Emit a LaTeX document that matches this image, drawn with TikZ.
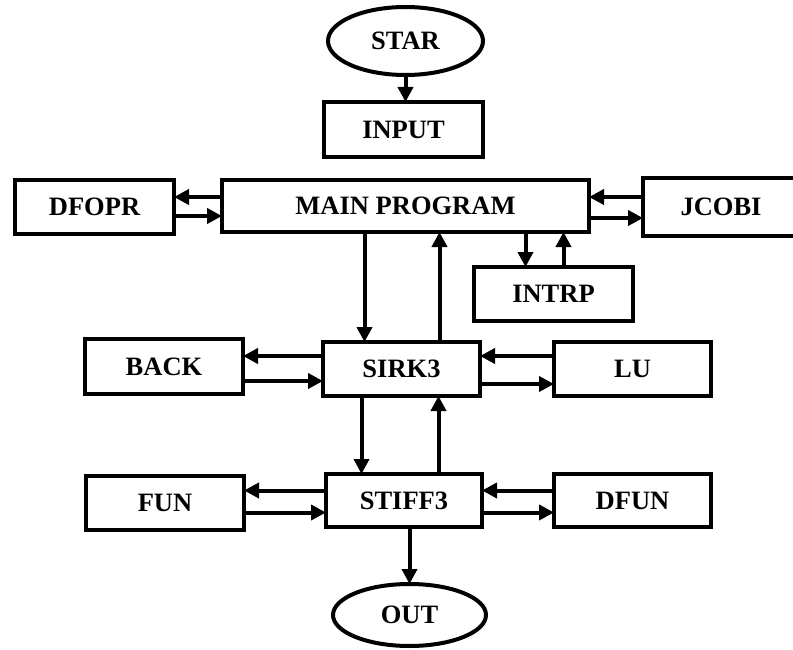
\documentclass[tikz,border=0pt]{standalone}
\usepackage{fontspec}
\setmainfont{Liberation Serif}
\usetikzlibrary{shapes.geometric,arrows.meta}
\tikzstyle{procBox}=[shape = rectangle, draw, line width = 4pt, inner sep = 0pt, outer sep = 0pt, font = \fontsize{26.5}{30}\selectfont\bfseries]
\tikzstyle{termOval}=[shape = ellipse, draw, line width = 4pt, inner sep = 0pt, outer sep = 0pt, font = \fontsize{26.5}{30}\selectfont\bfseries]
\tikzstyle{flowArrow}=[line width = 4pt, -{Triangle[length=15pt,width=15pt]}]

\begin{document}
\begin{tikzpicture}[x = 1pt, y = -1pt]
\useasboundingbox (0,0) rectangle (793,650);
\node[termOval, minimum width = 155pt, minimum height = 68pt] (star) at (405.5,41) {STAR};
\node[procBox, minimum width = 159pt, minimum height = 55pt] (input) at (403.5,129.5) {INPUT};
\node[procBox, minimum width = 159pt, minimum height = 54pt] (dfopr) at (94.5,207) {DFOPR};
\node[procBox, minimum width = 367pt, minimum height = 52pt] (main) at (405.5,206) {MAIN PROGRAM};
\node[procBox, minimum width = 156pt, minimum height = 58pt] (jcobi) at (721,207) {JCOBI};
\node[procBox, minimum width = 159pt, minimum height = 54pt] (intrp) at (553.5,294) {INTRP};
\node[procBox, minimum width = 158pt, minimum height = 55pt] (back) at (164,366.5) {BACK};
\node[procBox, minimum width = 157pt, minimum height = 54pt] (sirk) at (401.5,369) {SIRK3};
\node[procBox, minimum width = 157pt, minimum height = 54pt] (lu) at (632.5,369) {LU};
\node[procBox, minimum width = 158pt, minimum height = 54pt] (fun) at (165,503) {FUN};
\node[procBox, minimum width = 156pt, minimum height = 53pt] (stiff) at (404,500.5) {STIFF3};
\node[procBox, minimum width = 157pt, minimum height = 53pt] (dfun) at (632.5,500.5) {DFUN};
\node[termOval, minimum width = 153pt, minimum height = 62pt] (out) at (409.5,615) {OUT};
% vertical flow
\draw[flowArrow] (star.south) -- (star.south |- input.north);
\draw[flowArrow] ([xshift=-37pt]sirk.north |- main.south) -- ([xshift=-37pt]sirk.north);
\draw[flowArrow] ([xshift=38pt]sirk.north) -- ([xshift=38pt]sirk.north |- main.south);
\draw[flowArrow] ([xshift=-28pt]intrp.north |- main.south) -- ([xshift=-28pt]intrp.north);
\draw[flowArrow] ([xshift=10pt]intrp.north) -- ([xshift=10pt]intrp.north |- main.south);
\draw[flowArrow] ([xshift=-40pt]sirk.south) -- ([xshift=-40pt]sirk.south |- stiff.north);
\draw[flowArrow] ([xshift=37pt]sirk.south |- stiff.north) -- ([xshift=37pt]sirk.south);
\draw[flowArrow] (out.north |- stiff.south) -- (out.north);
% side calls
\draw[flowArrow] ([yshift=9pt]main.west) -- ([yshift=9pt]main.west -| dfopr.east);
\draw[flowArrow] ([yshift=-10pt]main.west -| dfopr.east) -- ([yshift=-10pt]main.west);
\draw[flowArrow] ([yshift=9pt]main.east -| jcobi.west) -- ([yshift=9pt]main.east);
\draw[flowArrow] ([yshift=-12pt]main.east) -- ([yshift=-12pt]main.east -| jcobi.west);
\draw[flowArrow] ([yshift=13pt]sirk.west) -- ([yshift=13pt]sirk.west -| back.east);
\draw[flowArrow] ([yshift=-12pt]sirk.west -| back.east) -- ([yshift=-12pt]sirk.west);
\draw[flowArrow] ([yshift=13pt]sirk.east -| lu.west) -- ([yshift=13pt]sirk.east);
\draw[flowArrow] ([yshift=-15pt]sirk.east) -- ([yshift=-15pt]sirk.east -| lu.west);
\draw[flowArrow] ([yshift=10pt]stiff.west) -- ([yshift=10pt]stiff.west -| fun.east);
\draw[flowArrow] ([yshift=-12pt]stiff.west -| fun.east) -- ([yshift=-12pt]stiff.west);
\draw[flowArrow] ([yshift=10pt]stiff.east -| dfun.west) -- ([yshift=10pt]stiff.east);
\draw[flowArrow] ([yshift=-12pt]stiff.east) -- ([yshift=-12pt]stiff.east -| dfun.west);
\end{tikzpicture}
\end{document}
